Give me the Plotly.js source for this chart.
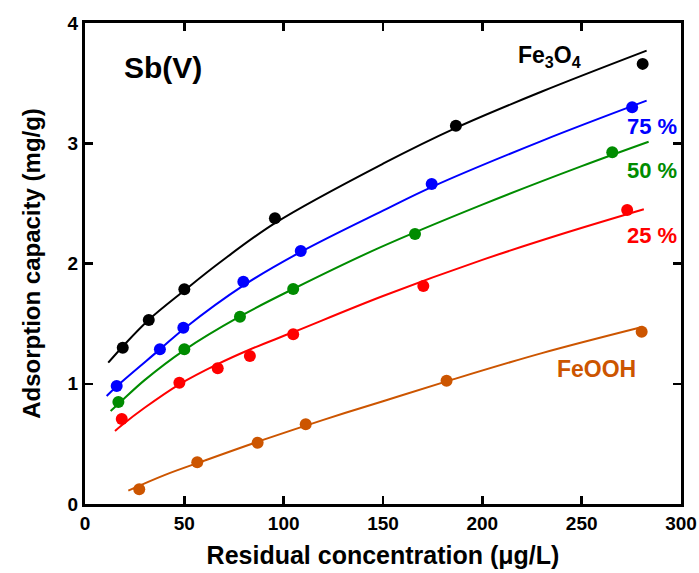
<!DOCTYPE html>
<html>
<head>
<meta charset="utf-8">
<script src="https://cdn.plot.ly/plotly-3.0.1.min.js"></script>
<style>html,body{margin:0;padding:0;background:#fff;}#chart{width:699px;height:573px;}</style>
</head>
<body>
<div id="chart"></div>
<script>
// Measured points (x = residual concentration µg/L, y = adsorption capacity mg/g)
const fe3o4X = [19.0, 32.1, 50.0, 95.6, 186.7, 280.7];
const fe3o4Y = [1.30, 1.53, 1.785, 2.376, 3.146, 3.66];
const p75X = [15.95, 37.7, 49.5, 79.7, 108.6, 174.5, 275.4];
const p75Y = [0.981, 1.286, 1.466, 1.849, 2.104, 2.661, 3.299];
const p50X = [16.8, 50.0, 78.0, 104.8, 166.1, 265.4];
const p50Y = [0.848, 1.287, 1.558, 1.788, 2.245, 2.925];
const p25X = [18.5, 47.5, 66.8, 83.0, 104.8, 170.3, 272.9];
const p25Y = [0.707, 1.009, 1.128, 1.231, 1.411, 1.813, 2.445];
const feoohX = [27.3, 56.5, 86.9, 111.1, 182.0, 280.2];
const feoohY = [0.122, 0.347, 0.510, 0.663, 1.025, 1.433];

// Fitted curves
const fe3o4FitX = [11.7, 19, 32, 50, 68, 96, 150, 187, 230, 282.7];
const fe3o4FitY = [1.175, 1.31, 1.53, 1.775, 2.01, 2.34, 2.83, 3.13, 3.43, 3.77];
const p75FitX = [10.9, 16, 38, 50, 80, 109, 150, 175, 230, 282.7];
const p75FitY = [0.898, 0.98, 1.29, 1.46, 1.82, 2.10, 2.44, 2.64, 3.02, 3.354];
const p50FitX = [12.9, 17, 30, 50, 78, 105, 148, 200, 250, 283.7];
const p50FitY = [0.773, 0.835, 1.03, 1.28, 1.56, 1.79, 2.13, 2.49, 2.81, 3.013];
const p25FitX = [15.1, 18.5, 30, 47.5, 67, 83, 105, 150, 200, 240, 281.3];
const p25FitY = [0.607, 0.655, 0.80, 0.995, 1.165, 1.285, 1.43, 1.73, 2.03, 2.245, 2.451];
const feoohFitX = [21.8, 40, 60, 90, 120, 150, 182, 230, 281];
const feoohFitY = [0.111, 0.24, 0.36, 0.535, 0.70, 0.855, 1.02, 1.255, 1.474];

const xTicks = [0, 50, 100, 150, 200, 250, 300];
const yTicks = [0, 1, 2, 3, 4];

const colors = {fe3o4: '#000000', p75: '#0000ff', p50: '#008c00', p25: '#ff0000', feooh: '#cc5500'};
const FONT = 'Arial, "Liberation Sans", sans-serif';

function fit(x, y, c) {
  return {x: x, y: y, type: 'scatter', mode: 'lines', line: {color: c, width: 2, shape: 'spline', smoothing: 1}, hoverinfo: 'skip', showlegend: false};
}
function pts(x, y, c) {
  return {x: x, y: y, type: 'scatter', mode: 'markers', marker: {color: c, size: 12, line: {width: 0}}, showlegend: false};
}

const data = [
  fit(fe3o4FitX, fe3o4FitY, colors.fe3o4), pts(fe3o4X, fe3o4Y, colors.fe3o4),
  fit(p75FitX, p75FitY, colors.p75), pts(p75X, p75Y, colors.p75),
  fit(p50FitX, p50FitY, colors.p50), pts(p50X, p50Y, colors.p50),
  fit(p25FitX, p25FitY, colors.p25), pts(p25X, p25Y, colors.p25),
  fit(feoohFitX, feoohFitY, colors.feooh), pts(feoohX, feoohY, colors.feooh)
];

const axisCommon = {
  showgrid: false, zeroline: false, showline: true, linecolor: '#000', linewidth: 3,
  mirror: 'ticks', ticks: 'inside', ticklen: 8, tickwidth: 2.5, tickcolor: '#000',
  tickfont: {family: FONT, size: 19, color: '#000', weight: 'bold'}
};

const layout = {
  width: 699, height: 573,
  margin: {l: 85, r: 18, t: 23, b: 69},
  paper_bgcolor: '#fff', plot_bgcolor: '#fff',
  font: {family: FONT, color: '#000'},
  xaxis: Object.assign({}, axisCommon, {
    range: [0, 300], tickvals: xTicks, ticktext: xTicks.map(String),
    title: {text: '<b>Residual concentration (μg/L)</b>', font: {family: FONT, size: 25, color: '#000'}, standoff: 14}
  }),
  yaxis: Object.assign({}, axisCommon, {
    range: [0, 4], tickvals: yTicks, ticktext: yTicks.map(String),
    title: {text: '<b>Adsorption capacity (mg/g)</b>', font: {family: FONT, size: 24, color: '#000'}, standoff: 21}
  }),
  annotations: [
    {x: 39.3, y: 3.63, text: '<b>Sb(V)</b>', showarrow: false, font: {family: FONT, size: 30, color: '#000'}},
    {x: 234, y: 3.72, text: '<b>Fe<sub>3</sub>O<sub>4</sub></b>', showarrow: false, font: {family: FONT, size: 23, color: '#000'}},
    {x: 285.4, y: 3.14, text: '<b>75 %</b>', showarrow: false, font: {family: FONT, size: 22, color: colors.p75}},
    {x: 285.4, y: 2.77, text: '<b>50 %</b>', showarrow: false, font: {family: FONT, size: 22, color: colors.p50}},
    {x: 285.4, y: 2.23, text: '<b>25 %</b>', showarrow: false, font: {family: FONT, size: 22, color: colors.p25}},
    {x: 257.7, y: 1.12, text: '<b>FeOOH</b>', showarrow: false, font: {family: FONT, size: 23, color: colors.feooh}}
  ]
};

Plotly.newPlot('chart', data, layout, {displayModeBar: false, staticPlot: true});
</script>
</body>
</html>
